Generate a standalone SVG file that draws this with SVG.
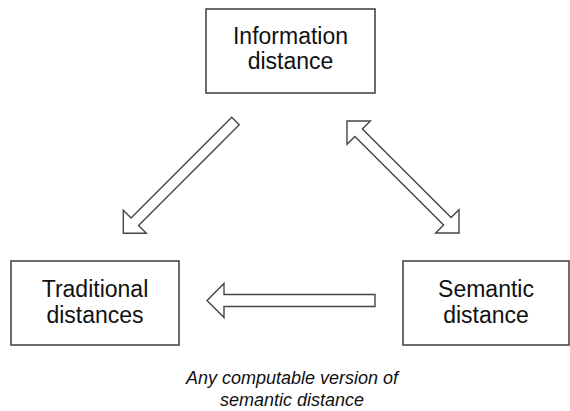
<svg xmlns="http://www.w3.org/2000/svg" width="570" height="411" viewBox="0 0 570 411">
  <style>
    .box { fill: #ffffff; stroke: #3c3c3c; stroke-width: 1.5; }
    .label { font-family: "Liberation Sans", Arial, sans-serif; font-size: 23px; fill: #111111; text-anchor: middle; }
    .caption { font-family: "Liberation Sans", Arial, sans-serif; font-size: 18px; font-style: italic; fill: #111111; text-anchor: middle; }
    .block-arrow { fill: #ffffff; stroke: #454545; stroke-width: 1.4; stroke-linejoin: miter; }
  </style>
  <rect width="570" height="411" fill="#ffffff"/>

  <g id="connectors">
    <!-- information distance -> traditional distances -->
    <polygon class="block-arrow" transform="translate(235.5,121) rotate(135)"
             points="0,-5.3 142.4,-5.3 142.4,-16.3 158.7,0 142.4,16.3 142.4,5.3 0,5.3"/>
    <!-- information distance <-> semantic distance -->
    <polygon class="block-arrow" transform="translate(347,121) rotate(45)"
             points="0,0 16.5,-16.5 16.5,-5.3 141.9,-5.3 141.9,-16.5 158.4,0 141.9,16.5 141.9,5.3 16.5,5.3 16.5,16.5"/>
    <!-- semantic distance -> traditional distances -->
    <polygon class="block-arrow"
             points="207,300.5 224,283.5 224,294.5 375,294.5 375,306.5 224,306.5 224,317.5"/>
  </g>

  <g id="information-distance">
    <rect class="box" x="206" y="9" width="169" height="84"/>
    <text class="label" x="290.5" y="43.5">Information</text>
    <text class="label" x="290.5" y="68.5">distance</text>
  </g>

  <g id="traditional-distances">
    <rect class="box" x="11" y="261" width="168" height="84"/>
    <text class="label" x="95" y="296.5">Traditional</text>
    <text class="label" x="95" y="323">distances</text>
  </g>

  <g id="semantic-distance">
    <rect class="box" x="403" y="261" width="166" height="84"/>
    <text class="label" x="486" y="296.5">Semantic</text>
    <text class="label" x="486" y="323">distance</text>
  </g>

  <g id="caption">
    <text class="caption" x="292" y="384">Any computable version of</text>
    <text class="caption" x="292" y="406">semantic distance</text>
  </g>
</svg>
